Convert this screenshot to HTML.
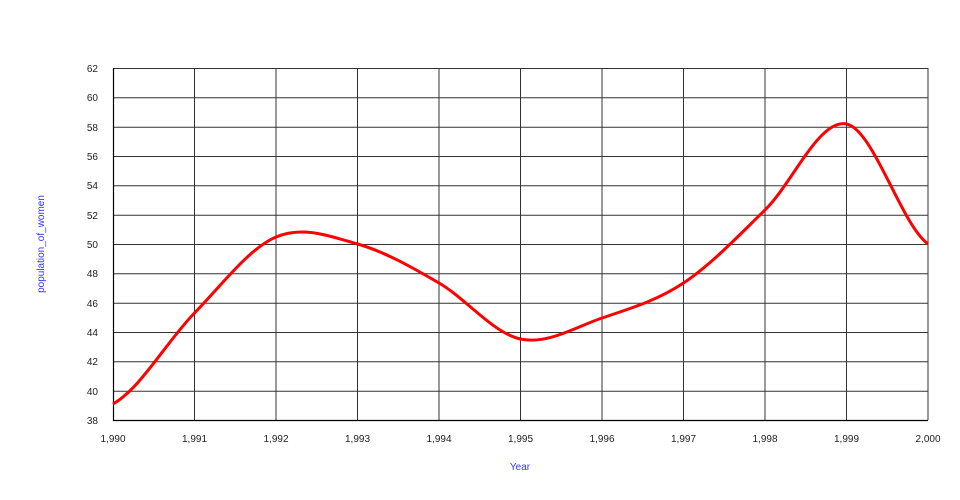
<!DOCTYPE html>
<html><head><meta charset="utf-8"><style>html,body{margin:0;padding:0;background:#fff;width:960px;height:500px;overflow:hidden}</style></head>
<body>
<svg width="960" height="500" xmlns="http://www.w3.org/2000/svg" font-family="Liberation Sans, DejaVu Sans, sans-serif">
<rect width="960" height="500" fill="#fff"/>
<g stroke="#333" stroke-width="1" fill="none">
<path d="M113 68.5H928M113 97.8H928M113 127.2H928M113 156.5H928M113 185.8H928M113 215.2H928M113 244.5H928M113 273.8H928M113 303.2H928M113 332.5H928M113 361.8H928M113 391.2H928"/>
<path d="M194.5 68V420M276 68V420M357.5 68V420M439 68V420M520.5 68V420M602 68V420M683.5 68V420M765 68V420M846.5 68V420M928 68V420"/>
</g>
<g stroke="#000" stroke-width="1.2" fill="none"><path d="M113.5 68V420.5H928"/></g>
<g font-size="10" fill="#222" text-anchor="end">
<text x="98" y="424">38</text><text x="98" y="395">40</text><text x="98" y="365">42</text><text x="98" y="336">44</text><text x="98" y="307">46</text><text x="98" y="277">48</text><text x="98" y="248">50</text><text x="98" y="219">52</text><text x="98" y="189">54</text><text x="98" y="160">56</text><text x="98" y="131">58</text><text x="98" y="101">60</text><text x="98" y="72">62</text>
</g>
<g font-size="10" fill="#222" text-anchor="middle">
<text x="113" y="442">1,990</text><text x="194.5" y="442">1,991</text><text x="276" y="442">1,992</text><text x="357.5" y="442">1,993</text><text x="439" y="442">1,994</text><text x="520.5" y="442">1,995</text><text x="602" y="442">1,996</text><text x="683.5" y="442">1,997</text><text x="765" y="442">1,998</text><text x="846.5" y="442">1,999</text><text x="928" y="442">2,000</text>
</g>
<text x="520" y="470" font-size="10" fill="#3333ff" text-anchor="middle">Year</text>
<text transform="translate(44,244) rotate(-90)" font-size="10" fill="#3333ff" text-anchor="middle">population_of_women</text>
<path fill="none" stroke="#ff0000" stroke-width="3" d="M113 404C140.2 388.8 167.3 340.8 194.5 313C221.7 285.2 248.8 248.5 276 237C303.2 225.5 330.3 236.3 357.5 244C384.7 251.7 411.8 267.2 439 283C466.2 298.8 493.3 333.2 520.5 339C547.7 344.8 574.8 327.3 602 318C629.2 308.7 656.3 301 683.5 283C710.7 265 737.8 236.5 765 210C792.2 183.5 819.3 118.3 846.5 124C873.7 129.7 900.8 224 928 244"/>
</svg>
</body></html>
